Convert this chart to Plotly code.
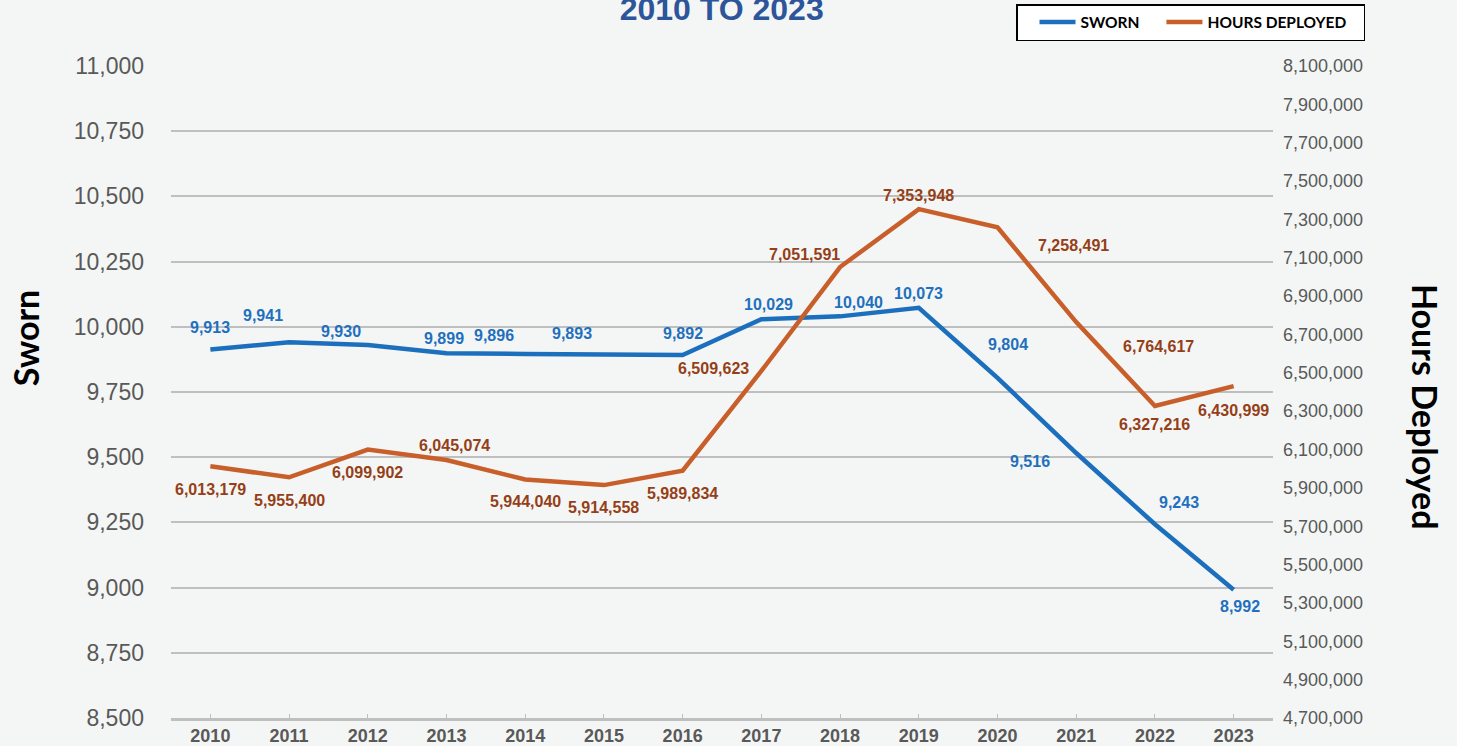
import plotly.graph_objects as go

years = [2010, 2011, 2012, 2013, 2014, 2015, 2016, 2017, 2018, 2019, 2020, 2021, 2022, 2023]
sworn = [9913, 9941, 9930, 9899, 9896, 9893, 9892, 10029, 10040, 10073, 9804, 9516, 9243, 8992]
hours = [6013179, 5955400, 6099902, 6045074, 5944040, 5914558, 5989834, 6509623,
         7051591, 7353948, 7258491, 6764617, 6327216, 6430999]

left_ticks = list(range(8500, 11001, 250))
right_ticks = list(range(4700000, 8100001, 200000))

# label placement offsets in pixels (dx right, dy down) relative to each point
sworn_off = [(0, -22), (-26, -27), (-27, -14), (-3, -15), (-31, -18), (-32, -21), (0, -21),
             (7, -15), (18, -14), (0, -14), (10, -33), (-46, 8), (24, -22), (6, 17)]
hours_off = [(0, 23), (0, 23), (0, 23), (8, -15), (0, 22), (0, 22), (0, 23),
             (-48, -2), (-36, -13), (0, -14), (76, 18), (82, 24), (0, 19), (0, 24)]

BLUE = "#1B6FBD"
ORANGE = "#C85F2B"
BLUE_TXT = "#1F70BE"
ORANGE_TXT = "#953F18"
BG = "#F4F6F5"
GRID = "#BFBFBF"
TICK = "#595959"
NB = "\u00a0"

fig = go.Figure()
fig.add_trace(go.Scatter(x=years, y=sworn, name="SWORN", mode="lines",
                         line=dict(color=BLUE, width=4.5), yaxis="y"))
fig.add_trace(go.Scatter(x=years, y=hours, name="HOURS DEPLOYED" + NB * 3, mode="lines",
                         line=dict(color=ORANGE, width=4.5), yaxis="y2"))

ann = []
for x, v, (dx, dy) in zip(years, sworn, sworn_off):
    ann.append(dict(x=x, y=v, xref="x", yref="y", text=f"{v:,}", showarrow=False,
                    xshift=dx, yshift=-dy,
                    font=dict(family="Liberation Sans, Arial", size=16, color=BLUE_TXT, weight="bold")))
for x, v, (dx, dy) in zip(years, hours, hours_off):
    ann.append(dict(x=x, y=v, xref="x", yref="y2", text=f"{v:,}", showarrow=False,
                    xshift=dx, yshift=-dy,
                    font=dict(family="Liberation Sans, Arial", size=16, color=ORANGE_TXT, weight="bold")))

ann.append(dict(x=-0.1325, y=0.584, xref="paper", yref="paper", text="Sworn", textangle=-90,
                showarrow=False, xanchor="center", yanchor="middle",
                font=dict(family="Lato", size=34, color="black", weight="bold")))
ann.append(dict(x=1.138, y=0.477, xref="paper", yref="paper", text="Hours Deployed", textangle=90,
                showarrow=False, xanchor="center", yanchor="middle",
                font=dict(family="Lato", size=34, color="black", weight="bold")))

fig.update_layout(
    width=1457, height=746,
    margin=dict(l=171, r=184, t=66, b=28, autoexpand=False),
    paper_bgcolor=BG, plot_bgcolor=BG,
    title=dict(text="2010 TO 2023", x=0.4997, xanchor="center", xref="paper",
               y=1 - 8.5 / 746, yanchor="middle", yref="container",
               font=dict(family="Liberation Sans, Arial", size=32, color="#2C559A", weight="bold")),
    showlegend=True,
    legend=dict(orientation="h", x=1016 / 1457, y=1 - 4 / 746, xref="container", yref="container",
                xanchor="left", yanchor="top", indentation=17, itemwidth=36,
                bgcolor="white", bordercolor="black", borderwidth=1.5,
                font=dict(family="Lato", size=15.5, color="black", weight="bold")),
    xaxis=dict(range=[2009.5, 2023.5], tickvals=years, ticktext=[str(y) for y in years],
               showgrid=False, zeroline=False, showline=True, linecolor=GRID, linewidth=2.5,
               ticks="inside", ticklen=4, tickcolor=GRID, tickwidth=1, automargin=False,
               tickfont=dict(family="Liberation Sans, Arial", size=18, color=TICK, weight="bold")),
    yaxis=dict(range=[8500, 11000], tickvals=left_ticks, ticktext=[f"{t:,}" for t in left_ticks],
               showgrid=True, gridcolor=GRID, gridwidth=2.2, zeroline=False, showline=False,
               ticks="", ticklabelstandoff=26, automargin=False,
               tickfont=dict(family="Liberation Sans, Arial", size=23, color=TICK)),
    yaxis2=dict(range=[4700000, 8100000], tickvals=right_ticks, ticktext=[f"{t:,}" for t in right_ticks],
                overlaying="y", side="right", showgrid=False, zeroline=False, showline=False,
                ticks="", ticklabelstandoff=9, automargin=False,
                tickfont=dict(family="Liberation Sans, Arial", size=18, color=TICK)),
    annotations=ann,
)

fig.write_html("out.html", config={"displayModeBar": False},
               post_script="document.body.style.margin='0';")
